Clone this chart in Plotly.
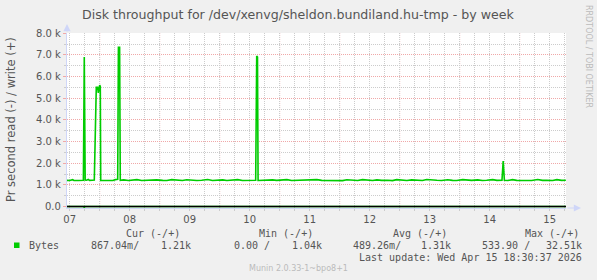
import plotly.graph_objects as go

# ---- data (day-of-month as fractional days, bytes per second) ----
write_days = [6.955, 7.00, 7.05, 7.07, 7.15, 7.228, 7.243, 7.258, 7.28, 7.31, 7.33, 7.40,
              7.41, 7.443, 7.465, 7.477, 7.49, 7.50, 7.51, 7.517,
              7.55, 7.65, 7.72, 7.76, 7.79, 7.80, 7.812, 7.832, 7.843,
              7.90, 7.98, 8.05, 8.12, 8.20, 8.30, 8.38, 8.45, 8.55, 8.62, 8.70, 8.80,
              8.88, 8.95, 9.05, 9.12, 9.20, 9.30, 9.38, 9.45, 9.55, 9.62, 9.70, 9.80,
              9.88, 9.95, 10.05, 10.100, 10.117, 10.130, 10.140,
              10.20, 10.30, 10.38, 10.45, 10.55, 10.62, 10.70, 10.80, 10.88, 10.95,
              11.05, 11.12, 11.20, 11.30, 11.38, 11.45, 11.55, 11.62, 11.70, 11.80,
              11.88, 11.95, 12.05, 12.12, 12.20, 12.30, 12.38, 12.45, 12.55, 12.62,
              12.70, 12.80, 12.88, 12.95, 13.05, 13.12, 13.20, 13.30, 13.38, 13.45,
              13.55, 13.62, 13.70, 13.80, 13.88, 13.95, 14.05, 14.12, 14.205, 14.225,
              14.245, 14.30, 14.38, 14.45, 14.55, 14.62, 14.70, 14.80, 14.88, 14.95,
              15.05, 15.12, 15.20, 15.27]
write_vals = [1205, 1200, 1240, 1205, 1200, 1210, 6900, 1220, 1210, 1250, 1205, 1210,
              1220, 5500, 5500, 5250, 5450, 5600, 5550, 1200,
              1200, 1210, 1200, 1240, 1250, 1260, 7350, 7350, 1210,
              1230, 1200, 1210, 1240, 1200, 1210, 1195, 1230, 1205, 1200, 1240, 1210,
              1200, 1235, 1205, 1200, 1210, 1245, 1200, 1210, 1230, 1200, 1205, 1240,
              1200, 1210, 1235, 1210, 6950, 6900, 1200,
              1210, 1200, 1230, 1205, 1210, 1240, 1200, 1205, 1230, 1200,
              1210, 1240, 1205, 1200, 1230, 1210, 1195, 1235, 1205, 1200,
              1240, 1210, 1200, 1230, 1205, 1210, 1195, 1240, 1205, 1200,
              1230, 1210, 1200, 1245, 1205, 1210, 1200, 1235, 1205, 1200,
              1240, 1210, 1205, 1230, 1200, 1210, 1240, 1205, 1210, 2100,
              1210, 1200, 1240, 1205, 1210, 1230, 1200, 1245, 1205, 1210,
              1200, 1240, 1205, 1210]

read_days = [6.955, 7.235, 7.243, 7.251, 15.27]
read_vals = [0, 0, -60, 0, 0]

y_tickvals = [0, 1000, 2000, 3000, 4000, 5000, 6000, 7000, 8000]
y_ticktext = ["0.0", "1.0 k", "2.0 k", "3.0 k", "4.0 k", "5.0 k", "6.0 k", "7.0 k", "8.0 k"]
x_tickvals = [7, 8, 9, 10, 11, 12, 13, 14, 15]
x_ticktext = ["07", "08", "09", "10", "11", "12", "13", "14", "15"]
day_boundaries = [7.5, 8.5, 9.5, 10.5, 11.5, 12.5, 13.5, 14.5]

legend_headers = ["Cur (-/+)", "Min (-/+)", "Avg (-/+)", "Max (-/+)"]
legend_read = ["867.04m/", "0.00 /", "489.26m/", "533.90 /"]
legend_write = ["1.21k", "1.04k", "1.31k", "32.51k"]

# ---- layout constants ----
W, H = 597, 280
PL, PR, PT, PB = 67, 566, 33, 208
GREEN = "#00CC00"
FONT_C = "#555555"
AXIS_C = "#CFD6F8"
MGRID = "#F0A8A8"
GRID = "#CCCCCC"
SANS = "DejaVu Sans"
MONO = "DejaVu Sans Mono"


def px(xp):
    return (xp - PL) / (PR - PL)


def py(yp):
    return (PB - yp) / (PB - PT)


fig = go.Figure()
fig.add_trace(go.Scatter(x=read_days, y=read_vals, mode="lines",
                         line=dict(color=GREEN, width=1.6), hoverinfo="skip"))
fig.add_trace(go.Scatter(x=write_days, y=write_vals, mode="lines",
                         line=dict(color=GREEN, width=1.6), hoverinfo="skip"))

shapes = []
for d in day_boundaries:
    shapes.append(dict(type="line", xref="x", yref="paper", x0=d, x1=d, y0=0, y1=1,
                       line=dict(color=MGRID, width=1, dash="1px,1px"), layer="below"))
# zero rule
shapes.append(dict(type="line", xref="paper", yref="y", x0=0, x1=1, y0=0, y1=0,
                   line=dict(color="#000000", width=1.5), layer="above"))
# legend swatch
shapes.append(dict(type="rect", xref="paper", yref="paper",
                   x0=px(14), x1=px(19.5), y0=py(248), y1=py(242.5),
                   fillcolor=GREEN, line=dict(width=0)))

ann = []
# title
ann.append(dict(text="Disk throughput for /dev/xenvg/sheldon.bundiland.hu-tmp - by week",
                xref="paper", yref="paper", x=px(298), y=py(14), showarrow=False,
                xanchor="center", yanchor="middle",
                font=dict(family=SANS, size=12.6, color=FONT_C)))
# y title
ann.append(dict(text="Pr second read (-) / write (+)", xref="paper", yref="paper",
                x=px(11), y=py(120), showarrow=False, textangle=-90,
                xanchor="center", yanchor="middle",
                font=dict(family=SANS, size=11.5, color=FONT_C)))
# watermark right
ann.append(dict(text="RRDTOOL / TOBI OETIKER", xref="paper", yref="paper",
                x=px(589), y=py(56), showarrow=False, textangle=90,
                xanchor="center", yanchor="middle",
                font=dict(family=SANS, size=8, color="#BBBBBB")))
# legend
header_x = [124, 257, 390.7, 523]
for t, xx in zip(legend_headers, header_x):
    ann.append(dict(text=t, xref="paper", yref="paper", x=px(xx), y=py(233.7),
                    showarrow=False, xanchor="left", yanchor="middle",
                    font=dict(family=MONO, size=10, color=FONT_C)))
ann.append(dict(text="Bytes", xref="paper", yref="paper", x=px(27), y=py(245.7),
                showarrow=False, xanchor="left", yanchor="middle",
                font=dict(family=MONO, size=10, color=FONT_C)))
read_x = [89, 231.5, 350.7, 480]
write_xr = [192.5, 323.5, 453, 583.5]
for t, xx in zip(legend_read, read_x):
    ann.append(dict(text=t, xref="paper", yref="paper", x=px(xx), y=py(245.7),
                    showarrow=False, xanchor="left", yanchor="middle",
                    font=dict(family=MONO, size=10, color=FONT_C)))
for t, xx in zip(legend_write, write_xr):
    ann.append(dict(text=t, xref="paper", yref="paper", x=px(xx), y=py(245.7),
                    showarrow=False, xanchor="right", yanchor="middle",
                    font=dict(family=MONO, size=10, color=FONT_C)))
ann.append(dict(text="Last update: Wed Apr 15 18:30:37 2026", xref="paper", yref="paper",
                x=px(583.5), y=py(257.3), showarrow=False, xanchor="right", yanchor="middle",
                font=dict(family=MONO, size=10, color=FONT_C)))
ann.append(dict(text="Munin 2.0.33-1~bpo8+1", xref="paper", yref="paper",
                x=px(298), y=py(268.7), showarrow=False, xanchor="center", yanchor="middle",
                font=dict(family=SANS, size=8, color="#BBBBBB")))
# axis arrows
ann.append(dict(text="", xref="paper", yref="paper", axref="pixel", ayref="pixel",
                x=px(581), y=py(PB), ax=-(581 - PR), ay=0, showarrow=True,
                arrowhead=2, arrowsize=1.2, arrowwidth=1.2, arrowcolor=AXIS_C))
ann.append(dict(text="", xref="paper", yref="paper", axref="pixel", ayref="pixel",
                x=px(PL), y=py(24), ax=0, ay=(PT - 24), showarrow=True,
                arrowhead=2, arrowsize=1.2, arrowwidth=1.2, arrowcolor=AXIS_C))

fig.update_layout(
    width=W, height=H,
    margin=dict(l=PL, r=W - PR, t=PT, b=H - PB, pad=0),
    paper_bgcolor="#F0F0F0", plot_bgcolor="#FFFFFF",
    showlegend=False,
    shapes=shapes, annotations=ann,
    xaxis=dict(range=[6.955, 15.272], tickvals=x_tickvals, ticktext=x_ticktext,
               showgrid=True, gridcolor=GRID, griddash="1px,1px", gridwidth=1,
               zeroline=False, showline=True, linecolor=AXIS_C, linewidth=1.2,
               ticks="outside", ticklen=2, tickcolor=GRID,
               minor=dict(dtick=0.25, tick0=7, showgrid=True, gridcolor=GRID,
                          griddash="1px,1px", gridwidth=1, ticks="outside", ticklen=2,
                          tickcolor=GRID),
               tickfont=dict(family=SANS, size=10, color=FONT_C), fixedrange=True),
    yaxis=dict(range=[-70, 8014], tickvals=y_tickvals, ticktext=y_ticktext,
               showgrid=True, gridcolor=MGRID, griddash="1px,1px", gridwidth=1,
               zeroline=False, showline=True, linecolor=AXIS_C, linewidth=1.2,
               ticks="outside", ticklen=3, tickcolor=MGRID,
               minor=dict(dtick=500, tick0=0, showgrid=True, gridcolor=GRID,
                          griddash="1px,1px", gridwidth=1, ticks="outside", ticklen=2,
                          tickcolor=GRID),
               tickfont=dict(family=SANS, size=10, color=FONT_C), fixedrange=True),
)

fig.write_html("out.html", config={"displayModeBar": False})
